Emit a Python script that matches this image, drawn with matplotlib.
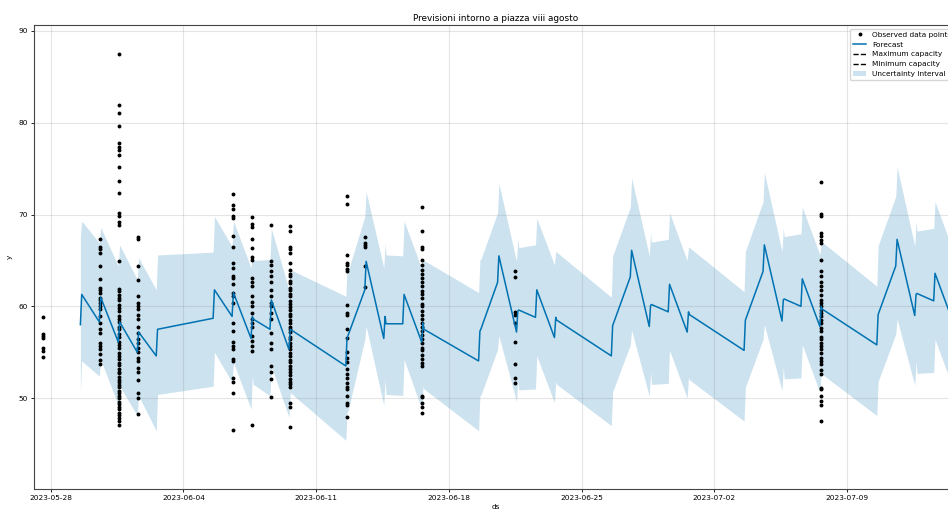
import matplotlib
matplotlib.use("Agg")
import matplotlib.pyplot as plt
import matplotlib.dates as mdates
import pandas as pd

# forecast rows: weekday timestamps (two per day, a third where the daily curve hooks)
fc_ds = [
    "2023-05-29 13:40", "2023-05-29 15:20",
    "2023-05-30 13:40", "2023-05-30 15:20",
    "2023-05-31 13:40", "2023-05-31 15:20",
    "2023-06-01 13:40", "2023-06-01 15:20",
    "2023-06-02 13:40", "2023-06-02 15:20",
    "2023-06-05 13:40", "2023-06-05 15:20",
    "2023-06-06 13:40", "2023-06-06 15:20",
    "2023-06-07 13:40", "2023-06-07 15:20", "2023-06-07 16:30",
    "2023-06-08 13:40", "2023-06-08 15:20",
    "2023-06-09 13:40", "2023-06-09 15:20",
    "2023-06-12 13:40", "2023-06-12 15:00", "2023-06-12 16:20",
    "2023-06-13 13:40", "2023-06-13 15:20",
    "2023-06-14 13:40", "2023-06-14 15:20", "2023-06-14 16:30",
    "2023-06-15 13:40", "2023-06-15 15:20",
    "2023-06-16 13:40", "2023-06-16 15:20", "2023-06-16 16:30",
    "2023-06-19 13:40", "2023-06-19 15:20", "2023-06-19 16:30",
    "2023-06-20 13:40", "2023-06-20 15:20",
    "2023-06-21 13:40", "2023-06-21 15:20", "2023-06-21 16:30",
    "2023-06-22 13:40", "2023-06-22 15:20",
    "2023-06-23 13:40", "2023-06-23 15:20", "2023-06-23 16:30",
    "2023-06-26 13:40", "2023-06-26 15:20",
    "2023-06-27 13:40", "2023-06-27 15:20",
    "2023-06-28 13:40", "2023-06-28 15:20", "2023-06-28 16:30",
    "2023-06-29 13:40", "2023-06-29 15:20",
    "2023-06-30 13:40", "2023-06-30 15:20", "2023-06-30 16:30",
    "2023-07-03 13:40", "2023-07-03 15:20",
    "2023-07-04 13:40", "2023-07-04 15:20",
    "2023-07-05 13:40", "2023-07-05 15:20", "2023-07-05 16:30",
    "2023-07-06 13:40", "2023-07-06 15:20",
    "2023-07-07 13:40", "2023-07-07 15:20", "2023-07-07 16:30",
    "2023-07-10 13:40", "2023-07-10 15:20",
    "2023-07-11 13:40", "2023-07-11 15:20",
    "2023-07-12 13:40", "2023-07-12 15:20", "2023-07-12 16:30",
    "2023-07-13 13:40", "2023-07-13 15:20",
    "2023-07-14 13:40", "2023-07-14 15:20",
]
fc_yhat = [
    58.0, 61.3, 58.3, 61.0, 56.1, 58.3, 55.0, 57.2, 54.6, 57.5,
    58.7, 61.8, 58.9, 61.5, 56.5, 58.9, 58.6, 57.5, 60.7, 55.3, 57.5,
    53.5, 56.4, 56.8, 61.8, 64.9, 56.5, 58.9, 58.1, 58.1, 61.3, 56.1, 58.2, 57.5,
    54.05, 57.3, 57.5, 62.6, 65.5, 57.2, 59.5, 59.6, 58.8, 61.8, 56.6, 58.8, 58.5,
    54.6, 57.9, 63.2, 66.1, 57.8, 60.1, 60.2, 59.4, 62.4, 57.2, 59.4, 59.1,
    55.2, 58.5, 63.8, 66.7, 58.4, 60.7, 60.8, 60.0, 63.0, 57.8, 60.0, 59.7,
    55.8, 59.1, 64.4, 67.3, 59.0, 61.3, 61.4, 60.6, 63.6, 58.4, 60.6,
]
fc_upper = [
    67.7, 69.3, 66.9, 68.6, 64.4, 66.7, 62.9, 65.3, 61.8, 65.6,
    65.9, 69.8, 66.5, 69.3, 64.2, 65.8, 65.0, 65.1, 68.5, 61.8, 64.0,
    61.1, 63.8, 63.8, 69.8, 72.5, 64.2, 66.9, 65.6, 65.5, 69.3, 64.1, 65.1, 65.0,
    61.5, 65.1, 65.1, 70.2, 73.4, 64.9, 67.45, 66.4, 66.7, 69.6, 64.5, 66.0, 65.9,
    61.0, 65.5, 70.8, 74.0, 65.5, 68.0, 67.0, 67.3, 70.2, 65.0, 66.5, 66.4,
    61.6, 66.0, 71.4, 74.6, 66.0, 68.6, 67.6, 67.9, 70.8, 65.6, 67.1, 67.0,
    62.2, 66.6, 72.0, 75.2, 66.6, 69.2, 68.2, 68.5, 71.4, 66.2, 67.7,
]
fc_lower = [
    50.4, 54.05, 52.4, 54.2, 49.2, 51.3, 48.1, 50.25, 46.45, 50.4,
    51.3, 55.0, 51.7, 53.9, 48.8, 52.4, 51.5, 50.25, 53.5, 47.9, 50.6,
    45.4, 48.45, 48.6, 56.4, 57.85, 49.2, 52.1, 50.4, 50.3, 54.2, 48.8, 51.3, 51.0,
    46.45, 50.25, 50.3, 55.3, 56.8, 49.6, 52.1, 50.9, 51.0, 54.6, 49.5, 51.8, 51.5,
    47.0, 50.7, 55.8, 57.4, 50.2, 52.8, 51.5, 51.6, 55.2, 50.0, 52.3, 52.0,
    47.5, 51.2, 56.4, 58.0, 50.8, 53.4, 52.1, 52.2, 55.8, 50.6, 52.9, 52.6,
    48.1, 51.8, 57.0, 58.6, 51.4, 54.0, 52.7, 52.8, 56.4, 51.2, 53.5,
]

# observed values, grouped by the timestamp of each sampling day
obs_days = [
    "2023-05-27 14:00", "2023-05-30 14:30", "2023-05-31 14:30", "2023-06-01 14:30",
    "2023-06-06 14:30", "2023-06-07 14:30", "2023-06-08 14:30", "2023-06-09 14:30",
    "2023-06-12 14:30", "2023-06-13 14:00", "2023-06-16 14:30", "2023-06-21 12:00",
    "2023-07-07 14:30",
]
obs_0527 = [58.8, 57.0, 56.8, 56.5, 55.5, 55.1, 54.5]
obs_0530 = [67.3, 66.5, 66.2, 65.8, 64.4, 63.0, 62.0, 61.8, 61.5, 60.9, 60.7, 60.4,
            60.0, 59.7, 58.9, 58.2, 57.5, 57.1, 56.0, 55.7, 55.3, 54.8, 54.2, 53.7]
obs_0531 = [87.5, 81.9, 81.1, 79.6, 77.8, 77.4, 77.0, 76.5, 75.2, 73.6, 72.3, 70.2,
            69.8, 69.2, 68.9, 64.9, 61.9, 61.7, 61.2, 60.9, 60.7, 60.1, 59.8, 59.5,
            58.9, 58.6, 58.3, 57.7, 57.5, 57.0, 56.7, 56.1, 55.8, 55.5, 54.9, 54.6,
            54.3, 53.8, 53.6, 53.2, 52.9, 52.7, 52.3, 52.0, 51.8, 51.4, 51.2, 50.8,
            50.6, 50.2, 50.0, 49.6, 49.4, 49.0, 48.8, 48.4, 48.2, 47.8, 47.5, 47.1]
obs_0601 = [67.6, 67.3, 64.4, 62.9, 61.1, 60.4, 60.0, 59.7, 59.1, 58.6, 57.8, 57.1,
            56.4, 56.0, 55.5, 55.0, 54.4, 54.0, 53.3, 52.9, 52.0, 50.6, 50.0, 48.3]
obs_0606 = [72.2, 71.0, 70.6, 69.8, 69.6, 67.7, 66.5, 64.7, 64.2, 63.3, 63.1, 62.4,
            61.5, 61.1, 60.4, 58.2, 57.3, 56.1, 55.7, 55.3, 54.3, 54.0, 52.2, 51.8,
            50.6, 46.5]
obs_0607 = [69.7, 69.0, 68.6, 67.3, 66.4, 65.4, 65.1, 63.1, 62.7, 62.2, 61.1, 60.5,
            60.0, 59.3, 58.6, 58.2, 57.7, 56.8, 56.2, 55.7, 55.1, 47.1]
obs_0608 = [68.9, 64.9, 64.5, 63.9, 63.3, 62.6, 61.8, 61.1, 60.4, 60.0, 59.3, 58.6,
            57.1, 56.0, 55.3, 53.5, 52.9, 52.1, 50.1]
obs_0609 = [68.8, 68.2, 66.5, 66.2, 65.8, 64.7, 64.0, 63.5, 63.3, 62.8, 62.5, 62.0,
            61.8, 61.3, 61.1, 60.6, 60.3, 59.9, 59.6, 59.2, 58.9, 58.5, 58.2, 57.8,
            57.5, 57.2, 56.7, 56.4, 56.0, 55.7, 55.4, 54.9, 54.6, 54.2, 53.9, 53.5,
            53.2, 52.8, 52.5, 52.1, 51.8, 51.5, 51.2, 49.5, 49.0, 46.9]
obs_0612 = [72.0, 71.1, 65.6, 64.7, 64.5, 64.1, 63.8, 60.1, 59.3, 59.1, 57.5, 56.6,
            55.0, 54.4, 53.9, 53.2, 52.6, 52.2, 51.7, 51.2, 51.0, 50.2, 49.5, 49.2,
            47.9]
obs_0613 = [67.5, 66.9, 66.7, 66.5, 64.4, 62.1]
obs_0616 = [70.8, 68.2, 66.5, 66.2, 65.1, 64.5, 64.0, 63.5, 63.1, 62.6, 62.2, 61.7,
            61.3, 60.9, 60.3, 60.0, 59.5, 59.1, 58.6, 58.2, 57.8, 57.3, 56.9, 56.4,
            56.0, 55.5, 55.2, 54.7, 54.3, 53.8, 53.5, 50.2, 50.1, 49.5, 49.0, 48.4]
obs_0621 = [63.8, 63.2, 59.4, 59.1, 58.2, 56.1, 53.7, 52.2, 51.6]
obs_0707 = [73.5, 70.1, 69.8, 68.0, 67.7, 67.2, 66.9, 65.1, 63.8, 63.3, 62.7, 62.2,
            61.8, 61.2, 60.7, 60.4, 60.0, 59.6, 59.3, 58.9, 58.5, 58.2, 57.6, 57.3,
            56.7, 56.4, 56.0, 55.7, 55.3, 54.9, 54.4, 54.0, 53.7, 53.1, 52.6, 51.1,
            51.0, 50.2, 49.7, 49.3, 47.5]
obs_values = [obs_0527, obs_0530, obs_0531, obs_0601, obs_0606, obs_0607, obs_0608,
              obs_0609, obs_0612, obs_0613, obs_0616, obs_0621, obs_0707]

obs_ds, obs_y = [], []
for day, vals in zip(obs_days, obs_values):
    obs_ds += [day] * len(vals)
    obs_y += vals
obs_ds = pd.to_datetime(obs_ds)
fc_t = pd.to_datetime(fc_ds)

fig = plt.figure(figsize=(9.48, 5.12), dpi=100, facecolor="w")
ax = fig.add_axes([0.0359, 0.0449, 0.9747, 0.9063])

ax.plot(obs_ds, obs_y, "k.", ms=3.6, label="Observed data points")
ax.plot(fc_t, fc_yhat, ls="-", c="#0072B2", lw=1.1, label="Forecast")
ax.plot([], [], ls="--", c="k", lw=1.0, label="Maximum capacity")
ax.plot([], [], ls="--", c="k", lw=1.0, label="Minimum capacity")
ax.fill_between(fc_t, fc_lower, fc_upper, color="#0072B2", alpha=0.2,
                lw=0, label="Uncertainty interval")

ax.grid(True, which="major", c="gray", ls="-", lw=0.8, alpha=0.2)
ax.xaxis.set_major_locator(mdates.WeekdayLocator(byweekday=mdates.SU))
ax.xaxis.set_major_formatter(mdates.DateFormatter("%Y-%m-%d"))
ax.set_xlim(pd.Timestamp("2023-05-27 03:00"), pd.Timestamp("2023-07-14 20:30"))
ax.set_ylim(40.1, 90.65)
ax.tick_params(labelsize=5.3, length=2.5, width=0.6, pad=2)
for s in ax.spines.values():
    s.set_linewidth(0.8)
    s.set_color("#444444")

ax.set_xlabel("ds", fontsize=5.3, labelpad=2)
ax.set_ylabel("y", fontsize=5.3, labelpad=4)
ax.set_title("Previsioni intorno a piazza viii agosto", fontsize=6.4, pad=3)
ax.legend(loc="upper right", fontsize=5.3, handlelength=1.8, framealpha=0.8)

fig.savefig("out.png", dpi=100, facecolor="w")
